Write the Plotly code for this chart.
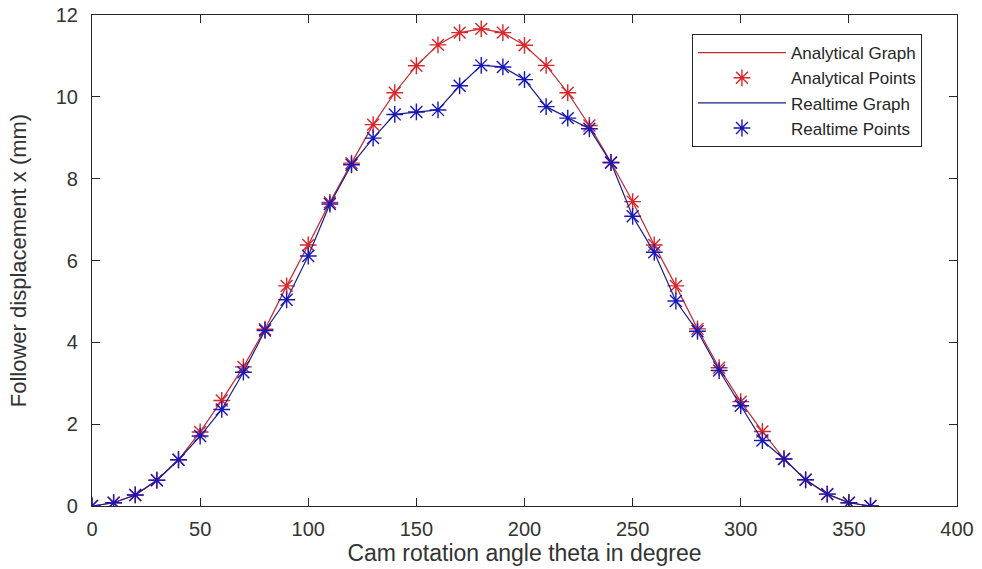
import plotly.graph_objects as go

theta = [0, 10, 20, 30, 40, 50, 60, 70, 80, 90, 100, 110, 120, 130, 140, 150, 160, 170, 180,
         190, 200, 210, 220, 230, 240, 250, 260, 270, 280, 290, 300, 310, 320, 330, 340, 350, 360]

analytical = [0.0, 0.08, 0.27, 0.63, 1.13, 1.81, 2.58, 3.40, 4.32, 5.38, 6.38, 7.42, 8.38, 9.32,
              10.10, 10.76, 11.27, 11.57, 11.66, 11.57, 11.26, 10.77, 10.10, 9.30, 8.40, 7.44,
              6.38, 5.38, 4.33, 3.38, 2.55, 1.82, 1.15, 0.64, 0.29, 0.08, 0.0]

realtime = [0.0, 0.08, 0.27, 0.63, 1.13, 1.71, 2.36, 3.27, 4.29, 5.04, 6.11, 7.38, 8.34, 8.99,
            9.57, 9.63, 9.68, 10.27, 10.77, 10.73, 10.42, 9.76, 9.48, 9.22, 8.39, 7.08,
            6.20, 5.01, 4.27, 3.31, 2.45, 1.60, 1.15, 0.64, 0.29, 0.08, 0.0]

x_ticks = [0, 50, 100, 150, 200, 250, 300, 350, 400]
y_ticks = [0, 2, 4, 6, 8, 10, 12]

RED_LINE = "#c4262e"
RED_MARK = "#d8262a"
BLUE_LINE = "#1c1c8a"
BLUE_MARK = "#1818b8"
AXIS = "#262626"
FONT = "Liberation Sans, Arial, sans-serif"

fig = go.Figure()
fig.add_trace(go.Scatter(x=theta, y=analytical, mode="lines", name="Analytical Graph",
                         line=dict(color=RED_LINE, width=1.2)))
fig.add_trace(go.Scatter(x=theta, y=analytical, mode="markers", name="Analytical Points",
                         marker=dict(symbol="asterisk-open", size=14, color=RED_MARK,
                                     line=dict(color=RED_MARK, width=1.4))))
fig.add_trace(go.Scatter(x=theta, y=realtime, mode="lines", name="Realtime Graph",
                         line=dict(color=BLUE_LINE, width=1.2)))
fig.add_trace(go.Scatter(x=theta, y=realtime, mode="markers", name="Realtime Points",
                         marker=dict(symbol="asterisk-open", size=14, color=BLUE_MARK,
                                     line=dict(color=BLUE_MARK, width=1.4))))

axis_common = dict(showgrid=False, zeroline=False, showline=True, linecolor=AXIS, linewidth=1.2,
                   mirror="allticks", ticks="inside", ticklen=8, tickcolor=AXIS, tickwidth=1,
                   automargin=False,
                   tickfont=dict(family=FONT, size=20, color="#333333"))

fig.update_xaxes(range=[0, 400], tickvals=x_ticks, ticktext=[str(v) for v in x_ticks],
                 ticklabelstandoff=5,
                 title=dict(text="Cam rotation angle theta in degree", standoff=0,
                            font=dict(family=FONT, size=23, color="#333333")),
                 **axis_common)
fig.update_yaxes(range=[0, 12], tickvals=y_ticks, ticktext=[str(v) for v in y_ticks],
                 ticklabelstandoff=9,
                 title=dict(text="Follower displacement x (mm)", standoff=22,
                            font=dict(family=FONT, size=22, color="#333333")),
                 **axis_common)

fig.update_layout(
    width=982, height=569,
    margin=dict(l=92, r=25, t=15, b=63),
    plot_bgcolor="white", paper_bgcolor="white",
    font=dict(family=FONT, color="#262626"),
    legend=dict(x=0.9595, y=0.961, xanchor="right", yanchor="top",
                bordercolor=AXIS, borderwidth=1, bgcolor="white",
                font=dict(family=FONT, size=17, color="#262626"),
                tracegroupgap=0, itemwidth=88),
    showlegend=True,
)

fig.write_html("out.html", config={"displayModeBar": False},
               post_script="document.body.style.margin='0';document.body.style.padding='0';")
